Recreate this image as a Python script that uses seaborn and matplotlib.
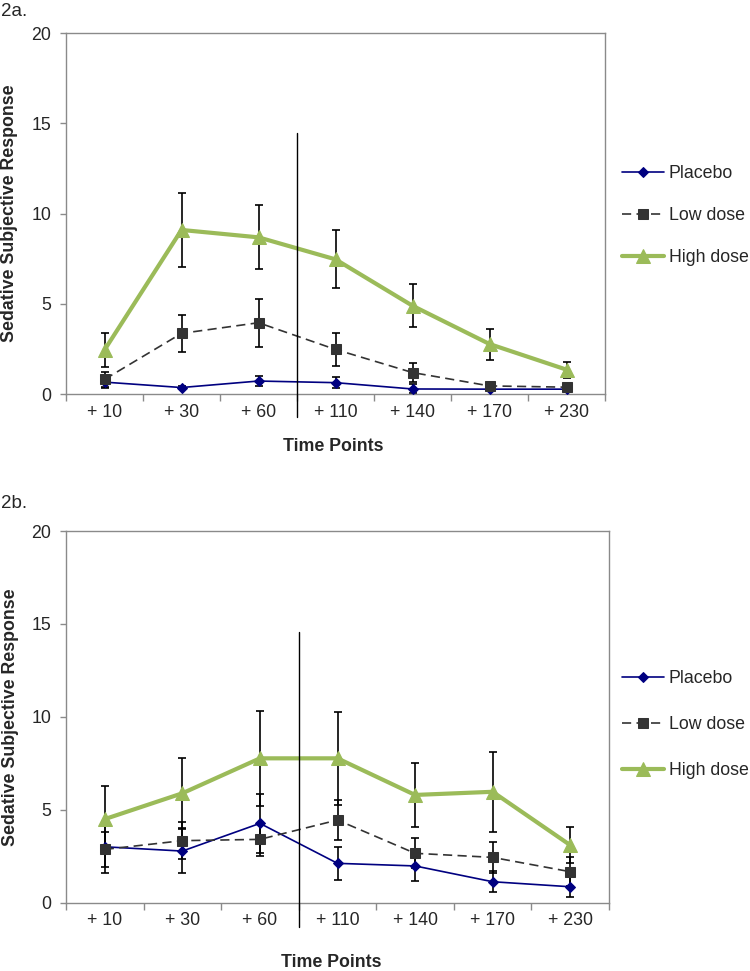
import matplotlib

matplotlib.use("Agg")
import matplotlib.pyplot as plt
import numpy as np
import seaborn as sns

# time points after dosing (minutes)
time_labels = ["+ 10", "+ 30", "+ 60", "+ 110", "+ 140", "+ 170", "+ 230"]
groups = ["Placebo", "Low dose", "High dose"]

# panel 2a: means and error bar half-widths
placebo_a = [0.66, 0.36, 0.72, 0.63, 0.28, 0.27, 0.27]
placebo_a_err = [0.3, 0.1, 0.28, 0.31, 0.25, 0.12, 0.1]
low_a = [0.81, 3.36, 3.95, 2.47, 1.19, 0.45, 0.38]
low_a_err = [0.43, 1.03, 1.33, 0.9, 0.54, 0.08, 0.08]
high_a = [2.44, 9.09, 8.68, 7.46, 4.89, 2.77, 1.35]
high_a_err = [0.96, 2.07, 1.77, 1.6, 1.2, 0.86, 0.45]

# panel 2b
placebo_b = [3.01, 2.78, 4.27, 2.12, 1.98, 1.13, 0.86]
placebo_b_err = [1.4, 1.18, 1.57, 0.88, 0.8, 0.57, 0.54]
low_b = [2.87, 3.34, 3.41, 4.45, 2.66, 2.44, 1.67]
low_b_err = [0.96, 0.98, 0.9, 1.08, 0.81, 0.85, 0.78]
high_b = [4.50, 5.89, 7.77, 7.77, 5.80, 5.97, 3.10]
high_b_err = [1.8, 1.88, 2.56, 2.51, 1.7, 2.15, 0.96]

# vertical divider between +60 and +110 (value range it spans)
divider_a = [14.45, -1.28]
divider_b = [14.59, -1.3]

sns.set_style("white")
plt.rcParams["font.family"] = ["Liberation Sans", "DejaVu Sans"]

FS = 12.8
GRID_GRAY = "#8a8a8a"
styles = {
    "Placebo": dict(color="#000080", lw=1.2, marker="D", ms=5.5, ls="-", mec="#000080"),
    "Low dose": dict(color="#333333", lw=1.2, marker="s", ms=7, ls=(0, (5.5, 3.2)), mec="#333333"),
    "High dose": dict(color="#9bbb59", lw=3.0, marker="^", ms=9.5, ls="-", mec="#9bbb59"),
}


def draw_panel(ax, series, divider, tag, tag_y, legend_y, legend_spacing):
    x = np.arange(len(time_labels))
    for name, (vals, errs) in zip(groups, series):
        st = styles[name]
        ax.errorbar(
            x, vals, yerr=errs, fmt="none", ecolor="black",
            elinewidth=1.2, capsize=3, capthick=1.2, zorder=2,
        )
        sns.lineplot(
            x=x, y=vals, ax=ax, label=name, color=st["color"],
            linewidth=st["lw"], marker=st["marker"], markersize=st["ms"],
            markeredgecolor=st["mec"], linestyle=st["ls"], errorbar=None,
            zorder=3,
        )

    # divider line running below the axis
    ax.plot([2.5, 2.5], divider, color="black", lw=1.0, clip_on=False, zorder=4)

    ax.set_xlim(-0.5, len(time_labels) - 0.5)
    ax.set_ylim(0, 20)
    ax.set_yticks([0, 5, 10, 15, 20])
    ax.set_xticks(np.arange(-0.5, len(time_labels), 1))
    ax.set_xticklabels([])
    ax.set_xticks(x, minor=True)
    ax.set_xticklabels(time_labels, minor=True, fontsize=FS)
    ax.tick_params(axis="x", which="major", length=5, width=1, color=GRID_GRAY, direction="out")
    ax.tick_params(axis="x", which="minor", length=0, pad=7)
    ax.tick_params(axis="y", length=4.5, width=1, color=GRID_GRAY, direction="out",
                   labelsize=FS, pad=6)
    ax.tick_params(bottom=True, left=True)
    for sp in ax.spines.values():
        sp.set_color(GRID_GRAY)
        sp.set_linewidth(1.0)

    ax.set_xlabel("Time Points", fontsize=FS, fontweight="bold")
    ax.xaxis.label.set_va("center")
    ax.set_ylabel("Sedative Subjective Response", fontsize=FS, fontweight="bold")
    ax.yaxis.label.set_va("center")

    fig = ax.figure
    fig.text(0.002, tag_y, tag, fontsize=13.5, va="center", ha="left")

    handles, labels = ax.get_legend_handles_labels()
    ax.legend(
        handles, labels, loc="center left", bbox_to_anchor=(0.829, legend_y),
        bbox_transform=fig.transFigure, frameon=False, fontsize=FS,
        handlelength=2.35, handletextpad=0.3, labelspacing=legend_spacing,
        borderpad=0, borderaxespad=0, numpoints=1,
    )


fig = plt.figure(figsize=(7.5, 9.71), dpi=100)
ax_a = fig.add_axes([0.088, 0.5942, 0.7187, 0.3718])
ax_b = fig.add_axes([0.088, 0.0703, 0.724, 0.3828])

draw_panel(
    ax_a,
    [(placebo_a, placebo_a_err), (low_a, low_a_err), (high_a, high_a_err)],
    divider_a, "2a.", 1 - 12 / 971, 0.778, 1.41,
)
ax_a.xaxis.set_label_coords(0.495, -0.145)
ax_a.yaxis.set_label_coords(-0.104, 0.5)

draw_panel(
    ax_b,
    [(placebo_b, placebo_b_err), (low_b, low_b_err), (high_b, high_b_err)],
    divider_b, "2b.", 1 - 503 / 971, 0.254, 1.63,
)
ax_b.xaxis.set_label_coords(0.489, -0.162)
ax_b.yaxis.set_label_coords(-0.103, 0.5)

fig.savefig("out.png", dpi=100)
